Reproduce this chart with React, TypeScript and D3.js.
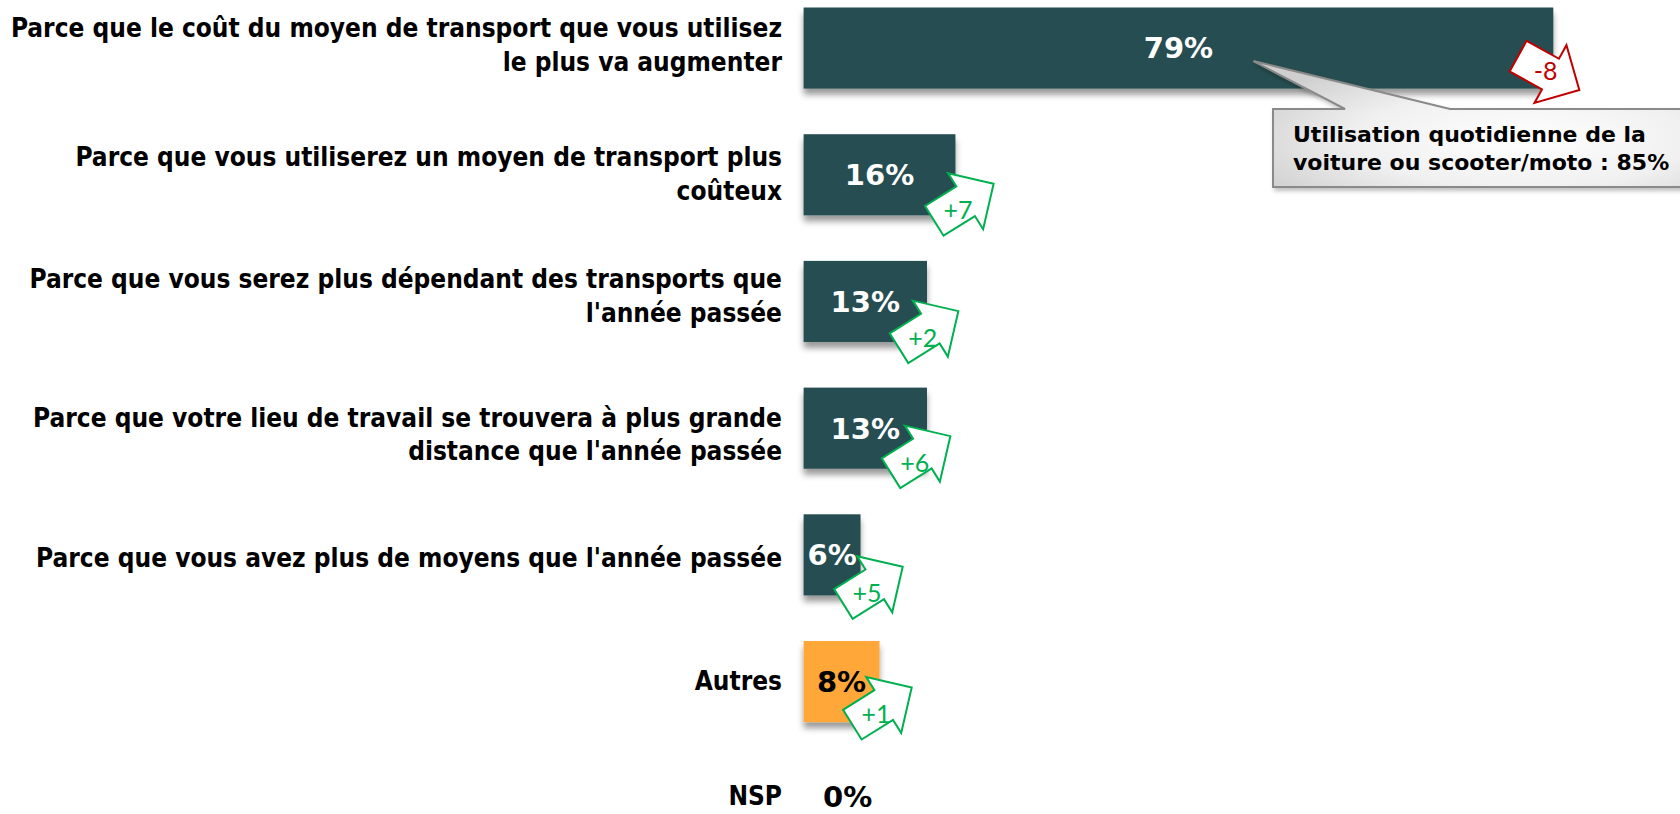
import React from "react";
import * as d3 from "d3";

// ---------- data ----------
const categories: string[] = [
  "Parce que le coût du moyen de transport que vous utilisez\nle plus va augmenter",
  "Parce que vous utiliserez un moyen de transport plus\ncoûteux",
  "Parce que vous serez plus dépendant des transports que\nl'année passée",
  "Parce que votre lieu de travail se trouvera à plus grande\ndistance que l'année passée",
  "Parce que vous avez plus de moyens que l'année passée",
  "Autres",
  "NSP",
];
const values: number[] = [79, 16, 13, 13, 6, 8, 0];
const changes: (number | null)[] = [-8, 7, 2, 6, 5, 1, null];
const calloutLines: string[] = ["Utilisation quotidienne de la", "voiture ou scooter/moto : 85%"];

// ---------- layout / style ----------
const W = 1680;
const H = 814;
const X0 = 803.6;
const PX_PER_PCT = 9.49;
const TEAL = "#254D51";
const ORANGE = "#FFA739";
const GREEN = "#00B050";
const RED = "#C00000";
const LABEL_FONT = "'DejaVu Sans Condensed', 'DejaVu Sans', sans-serif";
const VALUE_FONT = "'DejaVu Sans', sans-serif";
const ARROW_FONT = "Lato, 'Open Sans', sans-serif";
// hand placed nudges of the change arrows (relative to bar end / bar bottom)
const ARROW_NUDGE: [number, number][] = [
  [-4.6, -15.5],
  [8.5, -13],
  [1.7, -12.3],
  [-6.3, -14],
  [12.5, -10],
  [2.5, -16],
  [0, 0],
];
// hand placed vertical nudges of the row texts (relative to the band centre)
const TEXT_NUDGE: number[] = [-2.5, -0.5, -5, 6.7, 3.5, 0.2, -12];

const x = d3.scaleLinear().domain([0, 100]).range([X0, X0 + 100 * PX_PER_PCT]);
const y = d3
  .scaleBand<string>()
  .domain(categories)
  .range([-15.3, 871.6])
  .paddingInner(0.36)
  .paddingOuter(0.18);

const arrowLocal: [number, number][] = [
  [35, 0],
  [2, -33],
  [2, -17.5],
  [-35, -17.5],
  [-35, 17.5],
  [2, 17.5],
  [2, 33],
];
const arrowPath = (d3.line()(arrowLocal) || "") + "Z";

export default function App() {
  const bw = y.bandwidth();

  // callout geometry
  const cLeft = 1273;
  const cTop = 109;
  const cBottom = 187;
  const cRight = 1690;
  const tipX = x(47.4);
  const tipY = (y(categories[0]) as number) + bw / 2 + 13;
  const calloutPath =
    `M${cLeft},${cTop} L1345,${cTop} L${tipX},${tipY} L1450,${cTop} L${cRight},${cTop} ` +
    `L${cRight},${cBottom} L${cLeft},${cBottom} Z`;

  return (
    <svg
      width={W}
      height={H}
      style={{ position: "absolute", left: 0, top: 0, background: "#fff" }}
    >
      <defs>
        <filter id="barShadow" x="-10%" y="-20%" width="120%" height="150%">
          <feDropShadow dx="0" dy="6" stdDeviation="3" floodColor="#000" floodOpacity="0.4" />
        </filter>
        <filter id="boxShadow" x="-10%" y="-20%" width="130%" height="150%">
          <feDropShadow dx="2" dy="3" stdDeviation="2" floodColor="#000" floodOpacity="0.25" />
        </filter>
        <radialGradient id="calloutGrad" cx="0.62" cy="0.62" r="0.7">
          <stop offset="0" stopColor="#FFFFFF" />
          <stop offset="0.55" stopColor="#F0F0F0" />
          <stop offset="1" stopColor="#CFCFCF" />
        </radialGradient>
      </defs>

      {/* category labels */}
      {categories.map((c, ci) => {
        const lines = c.split("\n");
        const cy = (y(c) as number) + bw / 2 + TEXT_NUDGE[ci];
        const first = cy + 8.5 - ((lines.length - 1) * 33.5) / 2;
        return (
          <text
            key={"lab" + c}
            x={782}
            textAnchor="end"
            fontFamily={LABEL_FONT}
            fontStretch="condensed"
            fontWeight="bold"
            fontSize={26}
            fill="#000"
          >
            {lines.map((l, i) => (
              <tspan key={i} x={782} y={first + i * 33.5}>
                {l}
              </tspan>
            ))}
          </text>
        );
      })}

      {/* bars */}
      {categories.map((c, i) =>
        values[i] > 0 ? (
          <rect
            key={"bar" + c}
            x={x(0)}
            y={y(c) as number}
            width={x(values[i]) - x(0)}
            height={bw}
            fill={c === "Autres" ? ORANGE : TEAL}
            filter="url(#barShadow)"
          />
        ) : null
      )}

      {/* value labels */}
      {categories.map((c, i) => {
        const inside = values[i] > 0;
        const cy = (y(c) as number) + bw / 2 + (inside ? 0 : TEXT_NUDGE[i]);
        return (
          <text
            key={"val" + c}
            x={inside ? (x(0) + x(values[i])) / 2 : x(0) + 19.5}
            y={cy}
            dy="0.36em"
            textAnchor={inside ? "middle" : "start"}
            fontFamily={VALUE_FONT}
            fontWeight="bold"
            fontSize={29}
            fill={inside && c !== "Autres" ? "#fff" : "#000"}
          >
            {values[i]}%
          </text>
        );
      })}

      {/* callout */}
      <path
        d={calloutPath}
        fill="url(#calloutGrad)"
        stroke="#8A8A8A"
        strokeWidth={2}
        filter="url(#boxShadow)"
      />
      {calloutLines.map((l, i) => (
        <text
          key={"co" + i}
          x={1293}
          y={142 + i * 27.5}
          fontFamily={VALUE_FONT}
          fontWeight="bold"
          fontSize={22}
          fill="#000"
        >
          {l}
        </text>
      ))}

      {/* change arrows */}
      {categories.map((c, i) => {
        const ch = changes[i];
        if (ch === null) return null;
        const up = ch >= 0;
        const cx = x(values[i]) + ARROW_NUDGE[i][0];
        const cy = (y(c) as number) + bw + ARROW_NUDGE[i][1];
        const col = up ? GREEN : RED;
        const tOff = up ? [-6, 8] : [-3, -2];
        return (
          <g key={"arr" + c}>
            <path
              d={arrowPath}
              transform={`translate(${cx},${cy}) rotate(${up ? -32 : 29})`}
              fill="#fff"
              stroke={col}
              strokeWidth={2}
              strokeLinejoin="miter"
            />
            <text
              x={cx + tOff[0]}
              y={cy + tOff[1]}
              dy="0.36em"
              textAnchor="middle"
              fontFamily={ARROW_FONT}
              fontWeight={400}
              fontSize={25}
              fill={col}
            >
              {up ? "+" + ch : String(ch)}
            </text>
          </g>
        );
      })}
    </svg>
  );
}
